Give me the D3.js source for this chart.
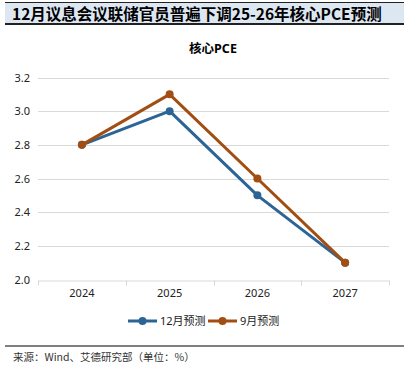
<!DOCTYPE html>
<meta charset="utf-8">
<title>核心PCE</title>
<style>
  body { margin: 0; background: #fff; }
</style>
<div id="viz"></div>
<script src="https://cdnjs.cloudflare.com/ajax/libs/d3/7.8.5/d3.min.js"></script>
<script>

var years = ["2024", "2025", "2026", "2027"];
var dec = [2.8, 3.0, 2.5, 2.1];
var sep = [2.8, 3.1, 2.6, 2.1];
var yTicks = [2.0, 2.2, 2.4, 2.6, 2.8, 3.0, 3.2];
var seriesNames = ["12月预测", "9月预测"];

var width = 409, height = 373;
var blue = "#2c6595", orange = "#a24e12";
var font = "'Noto Sans', 'Noto Sans CJK SC', sans-serif";

var svg = d3.select("#viz").append("svg")
  .attr("width", width)
  .attr("height", height);

// title band
svg.append("rect")
  .attr("x", 5).attr("y", 2).attr("width", 399).attr("height", 22)
  .attr("fill", "#dde7f2");
svg.append("line")
  .attr("x1", 5).attr("x2", 404).attr("y1", 2.5).attr("y2", 2.5)
  .attr("stroke", "#222").attr("stroke-width", 1);
svg.append("line")
  .attr("x1", 5).attr("x2", 404).attr("y1", 24).attr("y2", 24)
  .attr("stroke", "#222").attr("stroke-width", 2);
svg.append("text")
  .attr("x", 12).attr("y", 19.5)
  .attr("font-family", "'Noto Sans CJK SC', sans-serif")
  .attr("font-size", 15.5).attr("font-weight", "bold")
  .attr("fill", "#000")
  .text("12月议息会议联储官员普遍下调25-26年核心PCE预测");

// chart title
svg.append("text")
  .attr("x", 213).attr("y", 53)
  .attr("text-anchor", "middle")
  .attr("font-family", font)
  .attr("font-size", 12.5).attr("font-weight", "bold")
  .text("核心PCE");

var x = d3.scaleBand().domain(years).range([38, 389]);
var y = d3.scaleLinear().domain([2.0, 3.2]).range([279.5, 77.5]);

// gridlines
svg.append("g").selectAll("line")
  .data(yTicks.slice(1))
  .join("line")
  .attr("x1", 38).attr("x2", 389)
  .attr("y1", d => Math.round(y(d)) + 0.5).attr("y2", d => Math.round(y(d)) + 0.5)
  .attr("stroke", "#d9d9d9");

// y axis labels
var yAxis = svg.append("g")
  .attr("transform", "translate(38,0)")
  .call(d3.axisLeft(y).tickValues(yTicks).tickFormat(d3.format(".1f")).tickSize(0).tickPadding(8));
yAxis.select(".domain").remove();
yAxis.selectAll("text").attr("font-family", font).attr("font-size", 11).attr("fill", "#222");

// x axis
var xAxis = svg.append("g")
  .attr("transform", "translate(0," + (Math.round(y(2.0)) + 0.5) + ")")
  .call(d3.axisBottom(x).tickSize(0).tickPadding(9));
xAxis.select(".domain").attr("stroke", "#d9d9d9");
xAxis.selectAll("text").attr("font-family", font).attr("font-size", 11).attr("fill", "#222");
xAxis.append("g").selectAll("line")
  .data(d3.range(years.length + 1))
  .join("line")
  .attr("x1", i => Math.round(38 + i * x.step()) + 0.5)
  .attr("x2", i => Math.round(38 + i * x.step()) + 0.5)
  .attr("y1", 0).attr("y2", 5)
  .attr("stroke", "#d9d9d9");

var line = d3.line()
  .x((d, i) => x(years[i]) + x.bandwidth() / 2)
  .y(d => y(d));

var series = [
  { name: seriesNames[0], values: dec, color: blue },
  { name: seriesNames[1], values: sep, color: orange }
];

// 12月 drawn first so 9月 sits on top as in reference
series.forEach(function(s) {
  var g = svg.append("g");
  g.append("path")
    .attr("d", line(s.values))
    .attr("fill", "none")
    .attr("stroke", s.color)
    .attr("stroke-width", 3)
    .attr("stroke-linejoin", "round");
  g.selectAll("circle")
    .data(s.values)
    .join("circle")
    .attr("cx", (d, i) => x(years[i]) + x.bandwidth() / 2)
    .attr("cy", d => y(d))
    .attr("r", 4)
    .attr("fill", s.color);
});

// legend
var legend = svg.append("g").attr("transform", "translate(0,321)");
var legendX = [128, 208];
series.forEach(function(s, i) {
  var x0 = legendX[i];
  legend.append("line")
    .attr("x1", x0).attr("x2", x0 + 29)
    .attr("stroke", s.color).attr("stroke-width", 3);
  legend.append("circle")
    .attr("cx", x0 + 14.5).attr("r", 4).attr("fill", s.color);
  legend.append("text")
    .attr("x", x0 + 32).attr("y", 4)
    .attr("font-family", font).attr("font-size", 11).attr("fill", "#222")
    .text(s.name);
});

// source
svg.append("line")
  .attr("x1", 5).attr("x2", 404).attr("y1", 346).attr("y2", 346)
  .attr("stroke", "#000").attr("stroke-width", 1);
svg.append("text")
  .attr("x", 13).attr("y", 361)
  .attr("font-family", "'Noto Sans CJK SC', monospace")
  .attr("font-size", 10.5).attr("fill", "#333")
  .text("来源：Wind、艾德研究部（单位：%）");

</script>
